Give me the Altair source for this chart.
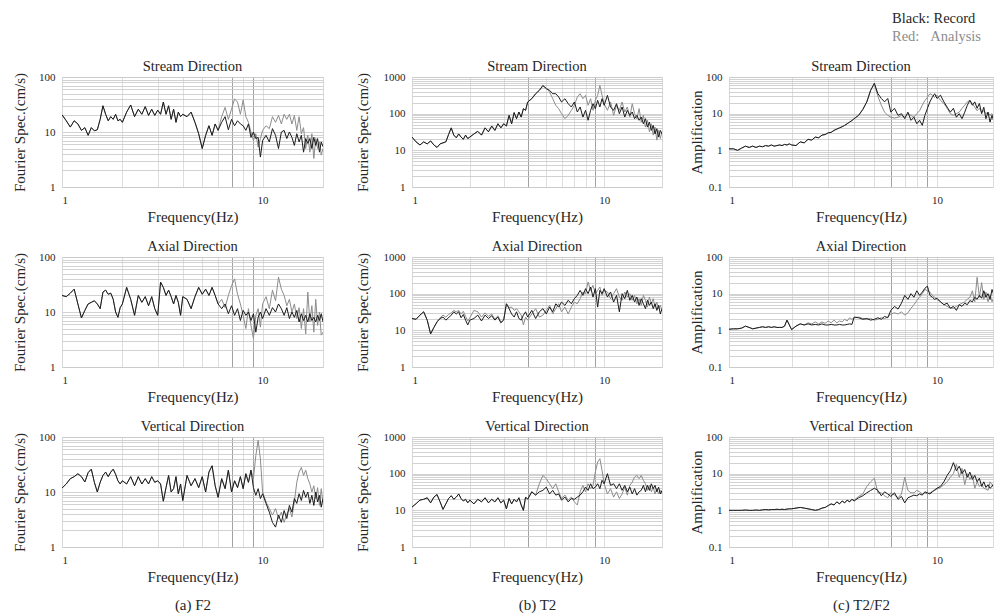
import altair as alt
import pandas as pd

# ---------------- data ----------------
FREQ = [1.0, 1.05, 1.1, 1.15, 1.2, 1.25, 1.3, 1.35, 1.4, 1.45, 1.5, 1.55, 1.6, 1.65, 1.7, 1.75, 1.8, 1.85, 1.9, 1.95,
        2.0, 2.1, 2.2, 2.3, 2.4, 2.5, 2.6, 2.7, 2.8, 2.9, 3.0, 3.1, 3.2, 3.3, 3.4, 3.5, 3.6, 3.7, 3.8, 3.9,
        4.0, 4.2, 4.4, 4.6, 4.8, 5.0, 5.2, 5.4, 5.6, 5.8,
        6.0, 6.25, 6.5, 6.75, 7.0, 7.25, 7.5, 7.75, 8.0, 8.25, 8.5, 8.75, 9.0, 9.25, 9.5, 9.75,
        10.0, 10.4, 10.8, 11.2, 11.6, 12.0, 12.4, 12.8, 13.2, 13.6, 14.0, 14.4, 14.8, 15.2, 15.6, 16.0, 16.4,
        16.8, 17.2, 17.6, 18.0, 18.4, 18.8, 19.2, 19.6, 20.0]

# (a) F2 - Stream
F2_STREAM_LOW = [20.6, 16, 12.3, 16, 14, 10.7, 12, 8.7, 12, 10.5, 11, 17, 30, 21, 16, 19, 17, 21, 16, 17,
                 15, 23, 31, 19, 26, 21, 29, 20, 26, 20, 25, 21, 35, 21, 30, 17, 26, 15, 23, 19,
                 21, 19, 23, 15, 9.3, 5, 8.7, 13, 8.7, 14]
F2_STREAM_REC = F2_STREAM_LOW + [10.7, 15, 19, 11, 17, 13, 16, 14, 13, 10.7, 14, 8, 10, 7.6, 8, 3.5,
                                 7, 8.7, 6.6, 11.5, 8.7, 5, 10, 10.7, 7.6, 10, 8, 5.7, 9.3, 6.6, 8.7, 4.3,
                                 7.6, 6.2, 7.6, 5, 8, 5.7, 7.6, 4.3, 6.6, 5.4]
F2_STREAM_ANA = F2_STREAM_LOW + [10.7, 19, 28, 17, 26, 40, 35, 21, 38, 19, 15, 10, 7, 9.3, 5.3, 7.6,
                                 10.7, 13, 11.5, 19, 15, 20, 14, 21, 17, 21, 14, 20, 10.7, 19, 9.3, 12,
                                 5, 8.7, 4.3, 9.3, 3.3, 7.6, 5, 6.6, 3.8, 5]

# (a) F2 - Axial
F2_AXIAL_LOW = [20, 19, 22, 26, 14, 7.8, 10.7, 14, 15, 16, 14, 11.5, 23, 25, 21, 22, 17, 10, 8, 12,
                14, 28, 17, 8.7, 20, 15, 19, 13, 19, 11.5, 8.7, 35, 28, 20, 25, 19, 14, 20, 15, 8.7,
                19, 17, 11.5, 19, 28, 21, 26, 20, 28, 20]
F2_AXIAL_REC = F2_AXIAL_LOW + [14, 11.5, 14, 9.3, 13, 8.7, 11.5, 7, 10.7, 8.7, 10, 7, 9.3, 4.3, 8, 10,
                               7.6, 11.5, 8.7, 12, 10, 14, 11.5, 8.7, 12, 7.6, 10, 8, 10.7, 6.6, 9.3, 7,
                               8.7, 6.6, 9.3, 7, 8, 6.6, 8.7, 7, 9.3, 6.6]
F2_AXIAL_ANA = F2_AXIAL_LOW + [14, 17, 12, 20, 30, 40, 21, 14, 8.7, 5, 11.5, 5.7, 3.3, 8.7, 11.5, 5.3,
                               14, 19, 11.5, 25, 16, 43, 26, 20, 13, 17, 10, 14, 7.6, 12, 5, 11.5,
                               4, 23, 6.6, 13, 4.3, 17, 5.7, 10, 3.8, 4.3]

# (a) F2 - Vertical
F2_VERT_LOW = [11.8, 14, 17.5, 19, 21.5, 19, 15.2, 22.5, 26, 15, 10, 15, 20, 23, 19, 23, 26, 21, 16, 14,
               16, 14, 19, 13, 19, 14, 17.5, 14, 19, 15, 16, 14, 6.8, 12, 20, 10, 11.5, 19, 9.3, 14,
               7, 20, 13, 17.5, 12, 19, 10, 23, 30, 13,
               8, 17.5, 11.5, 25, 10, 16, 12, 19, 11.5, 21.5, 15, 25]
F2_VERT_REC = F2_VERT_LOW + [12, 8.7, 11.5, 7.6,
                             9.3, 6.2, 4.3, 2.8, 2.3, 3.8, 2.8, 4.6, 3.3, 5.7, 4.3, 7.6, 6.2, 9.3, 7, 10.7,
                             8, 10, 6.2, 8.7, 5.7, 10, 6.6, 8.7, 5.3, 7.6]
F2_VERT_ANA = F2_VERT_LOW + [17.5, 46, 87, 40,
                             10, 6.6, 5, 3.8, 5, 3.3, 4.3, 2.8, 4, 5, 3.5, 6.6, 15, 23, 28, 20,
                             25, 17.5, 14, 10, 13, 7.6, 12, 5.7, 11.5, 6.2]

# (b) T2 - Stream
T2_STREAM_LOW = [23, 17, 14, 17, 15, 18, 14, 12, 15, 16, 17, 27, 41, 26, 22, 28, 23, 20, 26, 21,
                 23, 28, 33, 26, 41, 32, 46, 35, 53, 41, 53, 46, 90, 53, 107, 73, 111, 81, 137, 123]
T2_STREAM_REC = T2_STREAM_LOW + [208, 256, 350, 433, 590, 480, 433, 350, 350, 285,
                                 208, 256, 187, 152, 208, 111, 152, 81, 123, 66, 123, 187, 137, 231, 152, 256,
                                 169, 316, 152, 123, 187, 100, 152, 81, 123, 90, 111, 73, 90, 66, 81, 53,
                                 73, 43, 59, 35, 48, 28, 39, 23, 35, 28]
T2_STREAM_ANA = T2_STREAM_LOW + [208, 256, 350, 433, 560, 500, 390, 256, 169, 137,
                                 100, 73, 90, 123, 169, 285, 350, 256, 316, 169, 256, 123, 231, 316, 590, 316,
                                 187, 123, 208, 90, 169, 123, 208, 111, 152, 81, 187, 100, 73, 137, 59, 90,
                                 43, 66, 32, 53, 26, 43, 19, 35, 21, 32]

# (b) T2 - Axial
T2_AXIAL_REC = [21, 20, 26, 32, 19, 8, 12, 17, 21, 23, 19, 22, 26, 32, 28, 32, 22, 27, 19, 14,
                19, 21, 26, 18, 26, 21, 25, 19, 23, 16, 19, 53, 39, 28, 23, 32, 21, 19, 26, 32,
                23, 35, 21, 32, 39, 28, 43, 32, 53, 43,
                59, 48, 66, 53, 73, 90, 123, 90, 137, 100, 152, 81, 137, 43, 123, 100,
                137, 81, 111, 59, 90, 32, 100, 73, 123, 66, 90, 59, 81, 48, 73, 53, 39, 66, 48, 59,
                39, 53, 35, 48, 28, 39]
T2_AXIAL_ANA = [21, 20, 26, 32, 19, 8, 12, 17, 22, 26, 23, 27, 30, 35, 32, 35, 28, 33, 24, 18,
                22, 35, 32, 23, 30, 24, 28, 20, 25, 17, 19, 53, 42, 43, 35, 39, 32, 26, 14, 23,
                19, 28, 39, 23, 26, 35, 48, 28, 39, 53,
                32, 43, 28, 43, 59, 53, 73, 111, 100, 208, 123, 169, 100, 123, 152, 90,
                123, 111, 73, 100, 137, 81, 66, 111, 81, 100, 66, 90, 53, 73, 48, 90, 66, 43, 81, 53,
                73, 43, 59, 39, 48, 35]

# (b) T2 - Vertical
T2_VERT_LOW = [12.3, 15.2, 19, 20, 22, 16, 23, 27, 17, 10.6, 15, 21, 25, 20, 23, 28, 21, 18, 20, 16,
               19, 15, 20, 17, 22, 16, 20, 17, 22, 16, 19, 11, 21, 15, 20, 17, 22, 14, 10, 23]
T2_VERT_REC = T2_VERT_LOW + [20, 32, 26, 32, 35, 43, 28, 35, 26, 28,
                             19, 23, 17, 21, 20, 23, 26, 32, 43, 35, 53, 39, 43, 53, 39, 66,
                             53, 100, 48, 53, 39, 53, 35, 48, 32, 43, 28, 39, 26, 32, 35, 48,
                             32, 48, 35, 53, 39, 48, 32, 43, 28, 35]
T2_VERT_ANA = T2_VERT_LOW + [20, 32, 26, 53, 90, 73, 53, 39, 53, 32,
                             21, 26, 19, 23, 17, 14, 32, 48, 32, 53, 39, 48, 111, 208, 256, 123,
                             53, 28, 39, 23, 32, 21, 28, 43, 26, 48, 59, 81, 90, 73, 90, 66,
                             53, 35, 48, 32, 43, 28, 39, 28, 35, 28]

# (c) T2/F2 - Stream
AMP_STREAM_LOW = [1.1, 1.1, 1.0, 1.15, 1.3, 1.2, 1.3, 1.2, 1.3, 1.25, 1.35, 1.3, 1.4, 1.3, 1.35, 1.4, 1.35, 1.45, 1.4, 1.5,
                  1.4, 1.35, 1.7, 1.6, 2.0, 1.9, 2.3, 2.2, 2.6, 2.7, 3.0, 3.1, 3.5, 3.8, 4.1, 4.4, 4.8, 5.3, 5.9, 6.5]
AMP_STREAM_REC = AMP_STREAM_LOW + [7.3, 9, 13, 21, 43, 68, 35, 26, 21, 26,
                                   11, 14, 9, 10, 7.3, 11, 6.6, 8, 5.3, 6.6, 4.8, 9, 14, 21, 28, 35,
                                   26, 32, 21, 15, 11, 14, 8, 10, 7.3, 11, 17, 23, 17, 21, 14, 19,
                                   10, 15, 7.3, 11, 5.9, 9, 6, 10, 7, 8]
AMP_STREAM_ANA = AMP_STREAM_LOW + [7.3, 9, 13, 21, 45, 62, 30, 17, 11, 9,
                                   8, 7.6, 8, 9, 8, 10, 9, 8, 10, 12, 17, 23, 28, 35, 32, 28,
                                   32, 23, 19, 14, 10, 9, 10, 11, 14, 17, 21, 23, 19, 15, 12, 14,
                                   11, 12, 10, 11, 9, 10, 8, 9, 8, 9]

# (c) T2/F2 - Axial
AMP_AXIAL_LOW = [1.07, 1.1, 1.1, 1.15, 1.3, 1.2, 1.1, 1.15, 1.2, 1.25, 1.2, 1.25, 1.2, 1.25, 1.2, 1.2, 1.2, 1.3, 1.9, 1.4]
AMP_AXIAL_REC = AMP_AXIAL_LOW + [1.05, 1.3, 1.5, 1.4, 1.5, 1.4, 1.45, 1.4, 1.5, 1.4, 1.4, 1.45, 1.4, 1.4, 1.45, 1.4, 1.4, 1.45, 1.5, 1.45,
                                 2.3, 2.2, 2.0, 2.1, 1.9, 2.0, 2.2, 2.0, 2.4, 2.2,
                                 3.5, 4.5, 3.8, 5.5, 9, 7, 10, 8, 12, 9, 11, 14, 16, 9, 8, 7,
                                 7.5, 6, 5, 5.5, 4, 4.5, 3.5, 5, 4.5, 5.5, 5, 6.5, 6, 8, 7, 9,
                                 7.5, 12, 8, 10, 7, 13, 9, 11, 8, 10]
AMP_AXIAL_ANA = AMP_AXIAL_LOW + [1.05, 1.3, 1.5, 1.4, 1.6, 1.5, 1.7, 1.5, 1.7, 1.55, 1.8, 1.6, 1.9, 1.6, 1.8, 1.7, 2.0, 1.8, 2.2, 2.0,
                                 2.2, 2.3, 2.1, 2.0, 2.1, 1.9, 2.0, 2.2, 2.1, 2.3,
                                 2.8, 3.0, 2.8, 3.2, 2.6, 3.0, 4.0, 5.0, 6.5, 8, 10, 13, 12, 11, 9, 8,
                                 7, 6, 5, 4.5, 4, 4, 4.5, 5, 5.5, 6, 7, 8, 12, 6, 28, 8,
                                 20, 7, 11, 6, 9, 6, 8, 6, 7, 6]

# (c) T2/F2 - Vertical
AMP_VERT_LOW = [1.0, 1.0, 1.0, 1.0, 1.02, 1.0, 1.0, 1.02, 1.0, 1.03, 1.05, 1.03, 1.05, 1.05, 1.07, 1.05, 1.07, 1.05, 1.08, 1.1,
                1.1, 1.15, 1.2, 1.15, 1.1, 1.05, 1.0, 1.05, 1.15, 1.2, 1.35, 1.5, 1.4, 1.7, 1.5, 1.8, 1.6, 1.9, 1.7, 2.0]
AMP_VERT_REC = AMP_VERT_LOW + [1.8, 2.2, 2.5, 3.0, 3.5, 4.0, 3.5, 2.5, 3.2, 2.8,
                               2.4, 3.0, 2.0, 2.4, 1.6, 2.2, 2.4, 2.6, 2.5, 2.8, 2.6, 3.2, 3.0, 2.8, 3.2, 3.6,
                               4.0, 4.5, 6, 9, 12, 20, 12, 16, 10, 13, 8, 11, 7, 9, 6, 7.5,
                               4.5, 6, 4.2, 5, 4, 4.5, 5.5, 4, 5, 4.5]
AMP_VERT_ANA = AMP_VERT_LOW + [1.9, 2.4, 2.8, 4.5, 6.0, 7.5, 3.0, 3.0, 2.5, 2.2,
                               3.0, 2.6, 2.2, 2.8, 8.0, 3.5, 3.0, 3.0, 3.5, 3.2, 2.8, 3.0, 2.8, 3.0, 3.3, 3.5,
                               3.8, 4.2, 5, 6, 8, 10, 18, 8, 14, 5, 10, 7, 9, 4, 6, 4.5,
                               5, 4, 3.8, 3.5, 6, 5, 4, 6, 5, 4.5]

ROW_TITLES = ["Stream Direction", "Axial Direction", "Vertical Direction"]
CAPTIONS = ["(a) F2", "(b) T2", "(c) T2/F2"]
Y_TITLES = ["Fourier Spec.(cm/s)", "Fourier Spec.(cm/s)", "Amplification"]

X_TICKS = [1, 2, 3, 4, 5, 6, 7, 8, 9, 10, 20]
Y_TICKS_A = [1, 2, 3, 4, 5, 6, 7, 8, 9, 10, 20, 30, 40, 50, 60, 70, 80, 90, 100]
Y_TICKS_B = Y_TICKS_A + [200, 300, 400, 500, 600, 700, 800, 900, 1000]
Y_TICKS_C = [0.1, 0.2, 0.3, 0.4, 0.5, 0.6, 0.7, 0.8, 0.9] + Y_TICKS_A

# ---------------- styling ----------------
SERIF = "Liberation Serif"
TXT = "#262626"
REC_COLOR = "#1c1c1c"
ANA_COLOR = "#8c8c8c"
XGRID = "#d6d6d6"
YGRID = "#c6c6c6"
DARK_GRID = "#8a8a8a"
PLOT_H = 110


def panel(rec, ana, row_title, y_title, y_dom, y_ticks, width, x_max, dark_lines,
          x_title, y_title_pad):
    df = pd.DataFrame({"f": FREQ, "rec": rec, "ana": ana})
    test = "indexof(" + str(dark_lines) + ", datum.value) >= 0"
    x_axis = alt.Axis(
        values=X_TICKS,
        labelExpr="datum.value == 1 || datum.value == 10 ? format(datum.value, '~g') : ''",
        ticks=False, domain=False, grid=True,
        gridColor={"condition": {"test": test, "value": DARK_GRID}, "value": XGRID},
        gridWidth=0.8,
        labelFont=SERIF, labelFontSize=11, labelColor=TXT, labelPadding=7,
        title=x_title, titleFont=SERIF, titleFontSize=15, titleFontWeight="normal",
        titleColor=TXT, titlePadding=4, titleLineHeight=28,
    )
    y_axis = alt.Axis(
        values=y_ticks,
        labelExpr="indexof([0.1, 1, 10, 100, 1000], datum.value) >= 0 ? format(datum.value, '~g') : ''",
        ticks=False, domain=False, grid=True, gridColor=YGRID, gridWidth=0.8,
        labelFont=SERIF, labelFontSize=11, labelColor=TXT, labelPadding=7,
        title=y_title, titleFont=SERIF, titleFontSize=15, titleFontWeight="normal",
        titleColor=TXT, titlePadding=y_title_pad,
    )
    xs = alt.Scale(type="log", domain=[1, x_max], nice=False)
    ys = alt.Scale(type="log", domain=y_dom, nice=False)
    ana_line = alt.Chart(df).mark_line(color=ANA_COLOR, strokeWidth=1, clip=True).encode(
        x=alt.X("f:Q", scale=xs, axis=x_axis),
        y=alt.Y("ana:Q", scale=ys, axis=y_axis),
    )
    rec_line = alt.Chart(df).mark_line(color=REC_COLOR, strokeWidth=1, clip=True).encode(
        x=alt.X("f:Q", scale=xs, axis=x_axis),
        y=alt.Y("rec:Q", scale=ys, axis=y_axis),
    )
    return alt.layer(ana_line, rec_line).properties(
        width=width, height=PLOT_H,
        title=alt.TitleParams(row_title, font=SERIF, fontSize=14.5, fontWeight="normal",
                              color=TXT, offset=-3),
    )


COLS = [
    dict(series=[(F2_STREAM_REC, F2_STREAM_ANA), (F2_AXIAL_REC, F2_AXIAL_ANA), (F2_VERT_REC, F2_VERT_ANA)],
         y_dom=[1, 100], y_ticks=Y_TICKS_A, width=261, x_max=20, dark=[7, 9], pad=11),
    dict(series=[(T2_STREAM_REC, T2_STREAM_ANA), (T2_AXIAL_REC, T2_AXIAL_ANA), (T2_VERT_REC, T2_VERT_ANA)],
         y_dom=[1, 1000], y_ticks=Y_TICKS_B, width=250, x_max=20, dark=[4, 9], pad=13),
    dict(series=[(AMP_STREAM_REC, AMP_STREAM_ANA), (AMP_AXIAL_REC, AMP_AXIAL_ANA), (AMP_VERT_REC, AMP_VERT_ANA)],
         y_dom=[0.1, 100], y_ticks=Y_TICKS_C, width=264, x_max=18.6, dark=[6, 9], pad=1),
]

columns = []
for ci, col in enumerate(COLS):
    panels = []
    for ri, (rec, ana) in enumerate(col["series"]):
        x_title = "Frequency(Hz)" if ri < 2 else ["Frequency(Hz)", CAPTIONS[ci]]
        panels.append(panel(rec, ana, ROW_TITLES[ri], Y_TITLES[ci], col["y_dom"], col["y_ticks"],
                            col["width"], col["x_max"], col["dark"], x_title, col["pad"]))
    columns.append(alt.vconcat(*panels, spacing=13))

left_pair = alt.hconcat(columns[0], columns[1], spacing=30)
chart = alt.hconcat(left_pair, columns[2], spacing=26).properties(
    title=alt.TitleParams(
        "Black: Record", subtitle="Red:\u00a0\u00a0\u00a0Analysis",
        anchor="start", frame="group", dx=830, offset=14,
        font=SERIF, fontSize=14.5, fontWeight="normal", color=TXT,
        subtitleFont=SERIF, subtitleFontSize=14.5, subtitleColor="#8c8c8c", subtitlePadding=3,
    ),
    padding={"left": 11, "top": 11, "right": 0, "bottom": 0},
).configure_view(stroke="#5a5a5a", strokeWidth=1).configure(background="white")

chart.save("out.html", embed_options={"renderer": "svg", "actions": False})
